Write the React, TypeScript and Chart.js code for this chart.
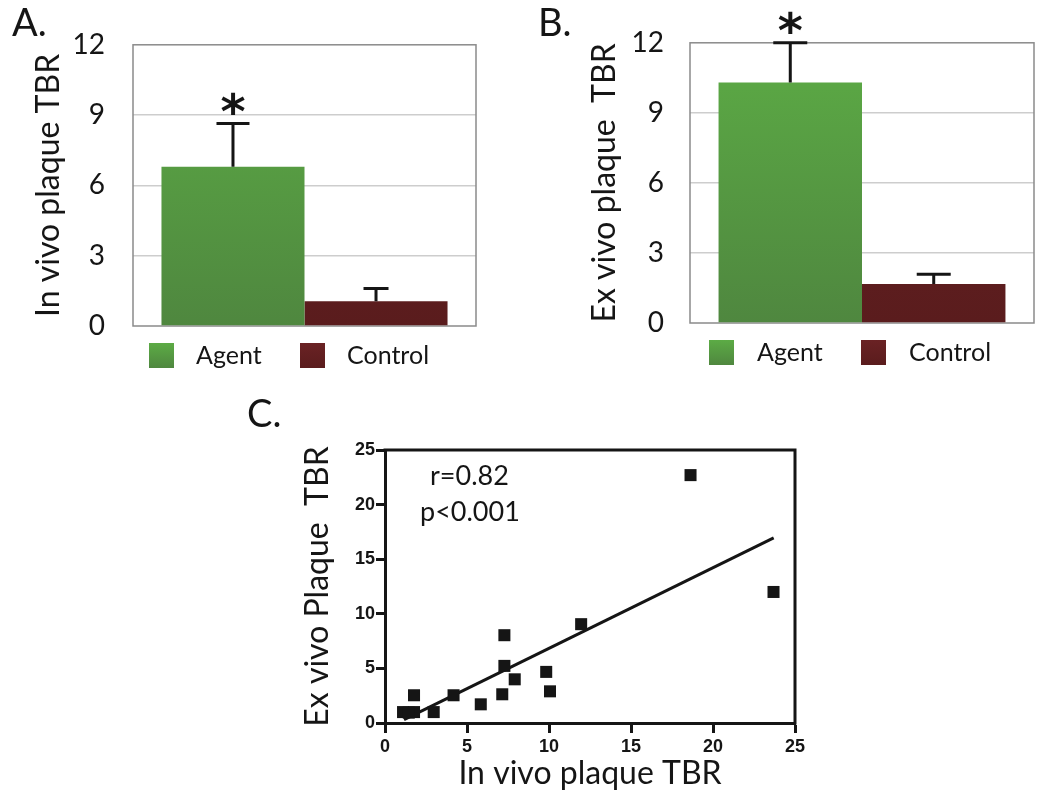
import React, { useEffect, useRef } from "react";
import { Chart, registerables } from "chart.js";

Chart.register(...registerables);

// ---------- data ----------
const groupLabels = ["Agent", "Control"];
const inVivoMeans = [6.8, 1.06];
const inVivoErrors = [1.84, 0.54];
const exVivoMeans = [10.3, 1.67];
const exVivoErrors = [1.7, 0.42];
const significanceMarks = ["*", ""];
const barTickValues = [0, 3, 6, 9, 12];

const correlationInVivo = [18.63, 23.69, 11.96, 7.28, 7.28, 7.91, 9.83, 10.06, 7.15, 5.84, 4.18, 2.97, 1.77, 1.77, 1.1, 1.45];
const correlationExVivo = [22.7, 12.0, 9.05, 8.04, 5.23, 4.0, 4.68, 2.9, 2.63, 1.71, 2.54, 1.0, 2.54, 1.0, 1.0, 0.95];
const fitInVivo = [1.16, 23.7];
const fitExVivo = [0.31, 16.95];
const correlationStats = ["r=0.82", "p<0.001"];
const scatterTickValues = [0, 5, 10, 15, 20, 25];

const panelLetters = ["A.", "B.", "C."];

// ---------- styles ----------
const FONT = "Lato, 'Open Sans', sans-serif";
const INK = "#151515";

type Area = { left: number; top: number; right: number; bottom: number };

function fillFor(i: number, chart: any, top?: number, bottom?: number) {
  const a = chart.chartArea;
  const t = top ?? (a ? a.top : 0);
  const b = bottom ?? (a ? a.bottom : 300);
  const g = chart.ctx.createLinearGradient(0, t, 0, b);
  if (i === 0) {
    g.addColorStop(0, "#5cab45");
    g.addColorStop(1, "#4f873f");
  } else {
    g.addColorStop(0, "#6a2224");
    g.addColorStop(1, "#5a1c1d");
  }
  return g;
}

interface BarPanel {
  means: number[];
  errors: number[];
  capWidths: number[];
  title: string;
  w: number;
  h: number;
  area: Area;
  titleX: number;
  tickRight: number;
  legendBoxX: number[];
  legendTextX: number[];
}

function barConfig(p: BarPanel): any {
  const { area } = p;
  const framePlugin = {
    id: "frame",
    beforeDatasetsDraw(chart: any) {
      const { ctx, chartArea: a } = chart;
      ctx.save();
      ctx.strokeStyle = "#8a8a8a";
      ctx.lineWidth = 1.5;
      ctx.strokeRect(a.left, a.top, a.right - a.left, a.bottom - a.top);
      ctx.restore();
    },
  };
  const errorPlugin = {
    id: "errors",
    afterDatasetsDraw(chart: any) {
      const { ctx } = chart;
      const y = chart.scales.y;
      ctx.save();
      p.means.forEach((m, i) => {
        const bar = chart.getDatasetMeta(i).data[0];
        const x = bar.x;
        const y0 = y.getPixelForValue(m);
        const y1 = y.getPixelForValue(m + p.errors[i]);
        ctx.strokeStyle = INK;
        ctx.lineWidth = 3;
        ctx.beginPath();
        ctx.moveTo(x, y0);
        ctx.lineTo(x, y1);
        ctx.moveTo(x - p.capWidths[i] / 2, y1);
        ctx.lineTo(x + p.capWidths[i] / 2, y1);
        ctx.stroke();
        const mark = significanceMarks[i];
        if (mark) {
          ctx.font = "bold 48px 'DejaVu Sans', sans-serif";
          ctx.fillStyle = INK;
          ctx.textAlign = "center";
          ctx.textBaseline = "alphabetic";
          const mt = ctx.measureText(mark);
          const targetBottom = y1 - 9;
          ctx.fillText(mark, x, targetBottom - mt.actualBoundingBoxDescent);
        }
      });
      ctx.restore();
    },
  };
  const legendPlugin = {
    id: "customLegend",
    afterDraw(chart: any) {
      const { ctx, chartArea: a } = chart;
      ctx.save();
      const boxTop = a.bottom + 17;
      chart.data.datasets.forEach((ds: any, i: number) => {
        ctx.fillStyle = fillFor(i, chart, boxTop, boxTop + 25);
        ctx.fillRect(a.left + p.legendBoxX[i], boxTop, 25, 25);
        ctx.font = `25px ${FONT}`;
        ctx.fillStyle = INK;
        ctx.textAlign = "left";
        ctx.textBaseline = "alphabetic";
        ctx.fillText(ds.label, a.left + p.legendTextX[i], boxTop + 21);
      });
      ctx.restore();
    },
  };
  return {
    type: "bar",
    data: {
      labels: [""],
      datasets: groupLabels.map((label, i) => ({
        label,
        data: [p.means[i]],
        backgroundColor: (c: any) => fillFor(i, c.chart),
        borderWidth: 0,
        categoryPercentage: 0.834,
        barPercentage: 1,
      })),
    },
    options: {
      responsive: false,
      animation: false,
      devicePixelRatio: 1,
      layout: { padding: { left: 0, top: area.top, right: p.w - area.right, bottom: p.h - area.bottom } },
      plugins: { legend: { display: false }, tooltip: { enabled: false } },
      scales: {
        x: { display: false },
        y: {
          min: 0,
          max: 12,
          afterBuildTicks: (s: any) => {
            s.ticks = barTickValues.map((v) => ({ value: v }));
          },
          afterFit: (s: any) => {
            s.width = area.left;
          },
          grid: {
            drawTicks: false,
            lineWidth: 1.5,
            color: (c: any) => (c.tick && (c.tick.value === 0 || c.tick.value === 12) ? "rgba(0,0,0,0)" : "#cdcdcd"),
          },
          border: { display: false },
          ticks: {
            padding: area.left - p.tickRight,
            font: { family: FONT, size: 28 },
            color: INK,
          },
          title: {
            display: true,
            text: p.title,
            color: INK,
            font: { family: FONT, size: 32 },
            padding: { top: p.titleX - 19.2, bottom: 0 },
          },
        },
      },
    },
    plugins: [framePlugin, errorPlugin, legendPlugin],
  };
}

const panelA: BarPanel = {
  means: inVivoMeans,
  errors: inVivoErrors,
  capWidths: [33, 25],
  title: "In vivo plaque TBR",
  w: 520,
  h: 400,
  area: { left: 133, top: 44, right: 476, bottom: 326 },
  titleX: 49,
  tickRight: 105,
  legendBoxX: [16, 167],
  legendTextX: [63, 214],
};

const panelB: BarPanel = {
  means: exVivoMeans,
  errors: exVivoErrors,
  capWidths: [34, 34],
  title: "Ex vivo plaque  TBR",
  w: 530,
  h: 400,
  area: { left: 170, top: 42.5, right: 514, bottom: 323 },
  titleX: 85,
  tickRight: 144,
  legendBoxX: [19, 171],
  legendTextX: [67, 219],
};

function scatterConfig(): any {
  const w = 570;
  const h = 384;
  const area: Area = { left: 135, top: 30, right: 545, bottom: 303 };
  const framePlugin = {
    id: "scatterFrame",
    afterDraw(chart: any) {
      const { ctx, chartArea: a } = chart;
      ctx.save();
      ctx.strokeStyle = INK;
      ctx.lineWidth = 3;
      ctx.beginPath();
      ctx.moveTo(a.left - 1.5, a.top);
      ctx.lineTo(a.right, a.top);
      ctx.lineTo(a.right, a.bottom + 1.5);
      ctx.stroke();
      ctx.font = `27px ${FONT}`;
      ctx.fillStyle = INK;
      ctx.textAlign = "left";
      ctx.textBaseline = "alphabetic";
      ctx.fillText(correlationStats[0], a.left + 45, a.top + 35);
      ctx.fillText(correlationStats[1], a.left + 35, a.top + 71);
      ctx.restore();
    },
  };
  const tickFont = { family: "'Liberation Sans', Arial, sans-serif", size: 18, weight: "bold" as const };
  return {
    type: "scatter",
    data: {
      datasets: [
        {
          label: "Plaque TBR",
          data: correlationInVivo.map((x, i) => ({ x, y: correlationExVivo[i] })),
          pointStyle: "rect",
          pointRadius: 8.5,
          backgroundColor: INK,
          borderWidth: 0,
        },
        {
          label: "Linear fit",
          data: fitInVivo.map((x, i) => ({ x, y: fitExVivo[i] })),
          showLine: true,
          pointRadius: 0,
          borderColor: INK,
          borderWidth: 3,
        },
      ],
    },
    options: {
      responsive: false,
      animation: false,
      devicePixelRatio: 1,
      layout: { padding: { left: 0, top: area.top, right: w - area.right, bottom: 0 } },
      plugins: { legend: { display: false }, tooltip: { enabled: false } },
      scales: {
        x: {
          type: "linear",
          min: 0,
          max: 25,
          afterBuildTicks: (s: any) => {
            s.ticks = scatterTickValues.map((v) => ({ value: v }));
          },
          afterFit: (s: any) => {
            s.height = h - area.bottom;
          },
          grid: { drawOnChartArea: false, drawTicks: true, tickLength: 10, tickWidth: 3, tickColor: INK },
          border: { display: true, width: 3, color: INK },
          ticks: { padding: 3, font: tickFont, color: INK },
          title: {
            display: true,
            text: "In vivo plaque TBR",
            color: INK,
            font: { family: FONT, size: 32 },
            padding: { top: 0, bottom: 11 },
          },
        },
        y: {
          type: "linear",
          min: 0,
          max: 25,
          afterBuildTicks: (s: any) => {
            s.ticks = scatterTickValues.map((v) => ({ value: v }));
          },
          afterFit: (s: any) => {
            s.width = area.left;
          },
          grid: { drawOnChartArea: false, drawTicks: true, tickLength: 9, tickWidth: 3, tickColor: INK },
          border: { display: true, width: 3, color: INK },
          ticks: { padding: 1, font: tickFont, color: INK },
          title: {
            display: true,
            text: "Ex vivo Plaque  TBR",
            color: INK,
            font: { family: FONT, size: 32 },
            padding: { top: 67.6 - 19.2, bottom: 0 },
          },
        },
      },
    },
    plugins: [framePlugin],
  };
}

const letterPos = [
  { left: 12, top: 2 },
  { left: 538, top: 2 },
  { left: 247, top: 393 },
];

export default function App() {
  const refA = useRef<HTMLCanvasElement>(null);
  const refB = useRef<HTMLCanvasElement>(null);
  const refC = useRef<HTMLCanvasElement>(null);

  useEffect(() => {
    const charts: Chart[] = [];
    if (refA.current) charts.push(new Chart(refA.current, barConfig(panelA)));
    if (refB.current) charts.push(new Chart(refB.current, barConfig(panelB)));
    if (refC.current) charts.push(new Chart(refC.current, scatterConfig()));
    return () => charts.forEach((c) => c.destroy());
  }, []);

  const abs = (left: number, top: number, w: number, h: number): React.CSSProperties => ({
    position: "absolute",
    left,
    top,
    width: w,
    height: h,
  });

  return (
    <div style={{ position: "fixed", left: 0, top: 0, width: 1050, height: 804, background: "#fff", overflow: "hidden" }}>
      <canvas ref={refA} width={520} height={400} style={abs(0, 0, 520, 400)} />
      <canvas ref={refB} width={530} height={400} style={abs(520, 0, 530, 400)} />
      <canvas ref={refC} width={570} height={384} style={abs(250, 420, 570, 384)} />
      {panelLetters.map((t, i) => (
        <div
          key={t}
          style={{
            position: "absolute",
            left: letterPos[i].left,
            top: letterPos[i].top,
            fontFamily: FONT,
            fontSize: 38,
            lineHeight: "38px",
            color: INK,
          }}
        >
          {t}
        </div>
      ))}
    </div>
  );
}
